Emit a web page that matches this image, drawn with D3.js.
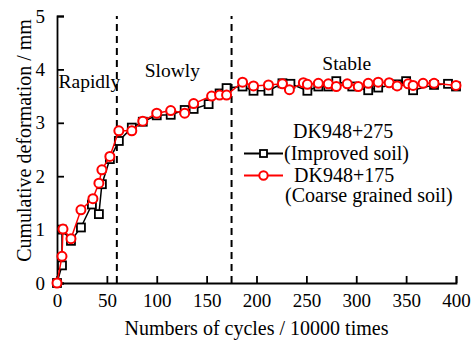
<!DOCTYPE html>
<html>
<head>
<meta charset="utf-8">
<script src="https://cdn.jsdelivr.net/npm/d3@7"></script>
<style>
  body { margin: 0; background: #fff; }
  text { font-family: "Liberation Serif", "Times New Roman", serif; fill: #000; }
</style>
</head>
<body>
<div id="chart"></div>
<script>
// data (cycles in 10000 times, deformation in mm)
const improvedX = [0, 5, 5, 14, 24, 35, 42, 45, 53, 62, 75, 86, 100, 114, 128, 137, 152, 163, 170,
  186, 197, 212, 226, 234, 251, 262, 272, 280, 296, 312, 322, 341, 350, 357, 378, 392, 400];
const improvedY = [0, 0.33, 1.0, 0.79, 1.04, 1.47, 1.29, 1.85, 2.32, 2.66, 2.91, 3.02, 3.14, 3.15, 3.24, 3.26, 3.35, 3.55, 3.65,
  3.68, 3.60, 3.60, 3.74, 3.73, 3.60, 3.68, 3.68, 3.78, 3.68, 3.61, 3.66, 3.72, 3.78, 3.61, 3.71, 3.73, 3.68];

const coarseX = [0, 5, 6, 14, 24, 36, 42, 45, 53, 62, 75, 86, 100, 114, 128, 137, 155, 163, 170,
  186, 197, 212, 226, 233, 247, 251, 262, 272, 280, 291, 302, 312, 322, 333, 341, 352, 357, 367, 378, 400];
const coarseY = [0, 0.5, 1.01, 0.83, 1.37, 1.58, 1.87, 2.12, 2.37, 2.85, 2.85, 3.03, 3.18, 3.23, 3.18, 3.36, 3.50, 3.52, 3.52,
  3.76, 3.69, 3.71, 3.73, 3.62, 3.75, 3.72, 3.74, 3.73, 3.68, 3.73, 3.68, 3.74, 3.76, 3.75, 3.69, 3.73, 3.70, 3.74, 3.74, 3.70];

const xTicks = [0, 50, 100, 150, 200, 250, 300, 350, 400];
const yTicks = [0, 1, 2, 3, 4, 5];
const stageBounds = [60, 175];
const stageLabels = ["Rapidly", "Slowly", "Stable"];
const seriesNames = [["DK948+275", "(Improved soil)"], ["DK948+175", "(Coarse grained soil)"]];

const improved = improvedX.map((d, i) => ({ x: d, y: improvedY[i] }));
const coarse = coarseX.map((d, i) => ({ x: d, y: coarseY[i] }));

const W = 476, H = 342;
const margin = { top: 16, right: 20, bottom: 59, left: 57 },
  width = W - margin.left - margin.right,
  height = H - margin.top - margin.bottom;

const svg = d3.select("#chart").append("svg")
  .attr("width", W).attr("height", H)
  .append("g")
  .attr("transform", `translate(${margin.left},${margin.top})`);

const x = d3.scaleLinear().domain([0, 400]).range([0, width]);
const y = d3.scaleLinear().domain([0, 5]).range([height, 0]);

// axes, ticks pointing inward
const xAxis = svg.append("g")
  .attr("transform", `translate(0,${height})`)
  .call(d3.axisBottom(x).tickValues(xTicks).tickFormat(d3.format("d"))
    .tickSizeInner(-7).tickSizeOuter(-7).tickPadding(11));
const yAxis = svg.append("g")
  .call(d3.axisLeft(y).tickValues(yTicks).tickFormat(d3.format("d"))
    .tickSizeInner(-7).tickSizeOuter(-7).tickPadding(12));
[xAxis, yAxis].forEach((g) => {
  g.selectAll("path, line").attr("stroke", "#000").attr("stroke-width", 1.8);
  g.selectAll("text").attr("font-size", 19).attr("font-family", "Liberation Serif");
});

// axis titles
svg.append("text")
  .attr("text-anchor", "middle")
  .attr("x", width / 2)
  .attr("y", height + 52)
  .attr("font-size", 20)
  .text("Numbers of cycles / 10000 times");
svg.append("text")
  .attr("text-anchor", "middle")
  .attr("transform", "rotate(-90)")
  .attr("x", -(height / 2) + 9)
  .attr("y", -26)
  .attr("font-size", 20)
  .text("Cumulative deformation / mm");

// stage boundaries
svg.selectAll(".stage-line")
  .data(stageBounds)
  .join("line")
  .attr("class", "stage-line")
  .attr("x1", (d) => x(d)).attr("x2", (d) => x(d))
  .attr("y1", y(0)).attr("y2", y(5))
  .attr("stroke", "#000")
  .attr("stroke-width", 2)
  .attr("stroke-dasharray", "7,5");

const stagePos = [[1.5, 3.65], [88, 3.86], [266, 3.98]];
svg.selectAll(".stage-label")
  .data(stageLabels)
  .join("text")
  .attr("class", "stage-label")
  .attr("x", (d, i) => x(stagePos[i][0]))
  .attr("y", (d, i) => y(stagePos[i][1]))
  .attr("font-size", 19.5)
  .text((d) => d);

const line = d3.line().x((d) => x(d.x)).y((d) => y(d.y));

// improved soil: black squares
svg.append("path")
  .datum(improved)
  .attr("fill", "none")
  .attr("stroke", "#000")
  .attr("stroke-width", 1.5)
  .attr("d", line);
svg.append("g")
  .selectAll("rect")
  .data(improved)
  .join("rect")
  .attr("x", (d) => x(d.x) - 4)
  .attr("y", (d) => y(d.y) - 4)
  .attr("width", 8).attr("height", 8)
  .attr("fill", "#fff")
  .attr("stroke", "#000")
  .attr("stroke-width", 1.8);

// coarse grained soil: red circles
svg.append("path")
  .datum(coarse)
  .attr("fill", "none")
  .attr("stroke", "#ff0000")
  .attr("stroke-width", 1.5)
  .attr("d", line);
svg.append("g")
  .selectAll("circle")
  .data(coarse)
  .join("circle")
  .attr("cx", (d) => x(d.x))
  .attr("cy", (d) => y(d.y))
  .attr("r", 4.5)
  .attr("fill", "#fff")
  .attr("stroke", "#ff0000")
  .attr("stroke-width", 2);

// legend
const lg = svg.append("g").attr("transform", `translate(${244 - margin.left},0)`);
const rows = [{ ly: 153.5 - margin.top, color: "#000", shape: "rect" },
  { ly: 175.5 - margin.top, color: "#ff0000", shape: "circle" }];
lg.append("text").attr("x", 49).attr("y", 138 - margin.top).attr("font-size", 20).text(seriesNames[0][0]);
lg.append("text").attr("x", 40).attr("y", 160 - margin.top).attr("font-size", 20).text(seriesNames[0][1]);
lg.append("text").attr("x", 50).attr("y", 182 - margin.top).attr("font-size", 20).text(seriesNames[1][0]);
lg.append("text").attr("x", 41).attr("y", 202 - margin.top).attr("font-size", 20).text(seriesNames[1][1]);
rows.forEach((r) => {
  lg.append("line").attr("x1", 0).attr("x2", 39).attr("y1", r.ly).attr("y2", r.ly)
    .attr("stroke", r.color).attr("stroke-width", 1.8);
  if (r.shape === "rect") {
    lg.append("rect").attr("x", 19.5 - 3.5).attr("y", r.ly - 3.5).attr("width", 7).attr("height", 7)
      .attr("fill", "#fff").attr("stroke", r.color).attr("stroke-width", 1.8);
  } else {
    lg.append("circle").attr("cx", 19.5).attr("cy", r.ly).attr("r", 4.2)
      .attr("fill", "#fff").attr("stroke", r.color).attr("stroke-width", 2);
  }
});
</script>
</body>
</html>
